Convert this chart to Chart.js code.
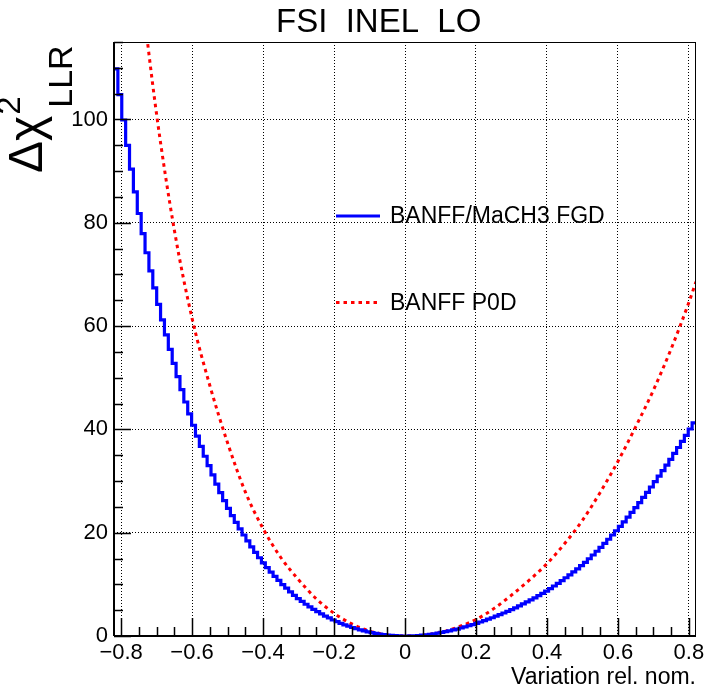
<!DOCTYPE html>
<html>
<head>
<meta charset="utf-8">
<script src="https://cdn.jsdelivr.net/npm/chart.js@4.4.1/dist/chart.umd.min.js"></script>
<style>
  html, body { margin: 0; padding: 0; background: #fff; }
  #wrap { width: 717px; height: 692px; }
</style>
</head>
<body>
<div id="wrap"><canvas id="c" width="717" height="692"></canvas></div>
<script>
// histogram range (FSI INEL LO scan, 150 bins)
const xLow = -0.82, xHigh = 0.82, nBins = 150;

// BANFF/MaCH3 FGD, one value per bin
const fgdValues = [
  109.8, 104.8, 99.9, 95.0, 90.4, 86.0, 81.8, 77.9, 74.2, 70.7,
  67.4, 64.2, 61.2, 58.3, 55.5, 52.8, 50.2, 47.7, 45.3, 43.0,
  40.8, 38.7, 36.7, 34.8, 33.0, 31.2, 29.4, 27.75, 26.2, 24.7,
  23.3, 22.0, 20.75, 19.55, 18.4, 17.25, 16.2, 15.15, 14.15, 13.25,
  12.35, 11.55, 10.75, 9.95, 9.25, 8.55, 7.85, 7.25, 6.7, 6.15,
  5.65, 5.15, 4.7, 4.3, 3.85, 3.5, 3.1, 2.8, 2.45, 2.15,
  1.9, 1.65, 1.4, 1.2, 1.0, 0.8, 0.65, 0.5, 0.38, 0.27,
  0.18, 0.11, 0.06, 0.02, 0.0, 0.0, 0.02, 0.05, 0.09, 0.16,
  0.23, 0.33, 0.44, 0.56, 0.69, 0.84, 1.0, 1.17, 1.35, 1.55,
  1.76, 1.98, 2.21, 2.45, 2.71, 2.97, 3.25, 3.53, 3.83, 4.13,
  4.45, 4.77, 5.11, 5.46, 5.83, 6.21, 6.6, 6.99, 7.4, 7.82,
  8.25, 8.68, 9.17, 9.68, 10.2, 10.73, 11.28, 11.84, 12.41, 13.0,
  13.61, 14.27, 14.96, 15.68, 16.41, 17.16, 17.94, 18.73, 19.55, 20.38,
  21.24, 22.11, 23.01, 23.93, 24.87, 25.83, 26.82, 27.82, 28.85, 29.89,
  30.94, 32.0, 33.09, 34.2, 35.34, 36.49, 37.67, 38.86, 40.08, 41.27
];

// BANFF P0D scan points
const p0dX = [-0.75, -0.7, -0.65, -0.6, -0.55, -0.5, -0.45, -0.4, -0.35, -0.3,
  -0.25, -0.2, -0.15, -0.1, -0.05, 0, 0.05, 0.1, 0.15, 0.2,
  0.25, 0.3, 0.35, 0.4, 0.45, 0.5, 0.55, 0.6, 0.65, 0.7,
  0.75, 0.8, 0.82];
const p0dY = [129, 101, 78.6, 61.5, 48.5, 37.4, 27.9, 20.8, 15.2, 10.9,
  7.2, 4.4, 2.35, 0.95, 0.22, 0, 0.15, 0.7, 1.75, 3.2,
  5.3, 7.9, 10.8, 14.0, 17.9, 22.4, 27.8, 33.8, 40.5, 47.6,
  55.6, 64.6, 68.6];

const xTicks = [-0.8, -0.6, -0.4, -0.2, 0, 0.2, 0.4, 0.6, 0.8];
const yTicks = [0, 20, 40, 60, 80, 100];
const yMax = 115;
const seriesLabels = ['BANFF/MaCH3 FGD', 'BANFF P0D'];
const titleText = 'FSI  INEL  LO';
const xTitle = 'Variation rel. nom.';

const FONT = "'Liberation Sans', Arial, Helvetica, sans-serif";
Chart.defaults.font.family = FONT;
Chart.defaults.color = '#000';

const binWidth = (xHigh - xLow) / nBins;
const fgdPoints = fgdValues.map((v, i) => ({ x: xLow + i * binWidth, y: v }));
fgdPoints.push({ x: xHigh, y: fgdValues[nBins - 1] });
const p0dPoints = p0dX.map((x, i) => ({ x, y: p0dY[i] }));

const fmtX = v => v === 0 ? '0' : (v < 0 ? '\u2212' : '') + Math.abs(v).toFixed(1);

// ROOT-like frame, inside ticks, titles and legend
const rootDecor = {
  id: 'rootDecor',
  afterDraw(chart) {
    const { ctx, chartArea: a, scales: { x, y } } = chart;
    ctx.save();
    ctx.strokeStyle = '#000';

    // frame
    ctx.lineWidth = 1;
    ctx.beginPath();
    ctx.moveTo(a.left, a.top + 0.5); ctx.lineTo(a.right, a.top + 0.5);
    ctx.moveTo(a.right - 0.5, a.top); ctx.lineTo(a.right - 0.5, a.bottom);
    ctx.stroke();
    ctx.lineWidth = 2;
    ctx.beginPath();
    ctx.moveTo(a.left, a.top); ctx.lineTo(a.left, a.bottom);
    ctx.moveTo(a.left, a.bottom); ctx.lineTo(a.right, a.bottom);
    ctx.stroke();

    // ticks
    ctx.lineWidth = 1.5;
    ctx.beginPath();
    for (let k = -16; k <= 16; k++) {
      const px = Math.round(x.getPixelForValue(k * 0.05)) + 0.5;
      const len = k % 4 === 0 ? 18 : 9;
      ctx.moveTo(px, a.bottom); ctx.lineTo(px, a.bottom - len);
    }
    for (let k = 0; k <= 23; k++) {
      const py = Math.round(y.getPixelForValue(k * 5)) + 0.5;
      const len = k % 4 === 0 ? 17 : 9;
      ctx.moveTo(a.left, py); ctx.lineTo(a.left + len, py);
    }
    ctx.stroke();

    ctx.fillStyle = '#000';
    // title
    ctx.font = '33px ' + FONT;
    ctx.textAlign = 'left';
    ctx.textBaseline = 'alphabetic';
    ctx.fillText(titleText, 276, 32);

    // x title
    ctx.font = '23px ' + FONT;
    ctx.textAlign = 'right';
    ctx.fillText(xTitle, a.right, 684);

    // y title
    ctx.save();
    ctx.translate(42, 173);
    ctx.rotate(-Math.PI / 2);
    ctx.textAlign = 'left';
    ctx.font = '48px ' + FONT;
    ctx.fillText('\u0394\u03c7', 0, 0);
    const w1 = ctx.measureText('\u0394\u03c7').width;
    ctx.font = '33px ' + FONT;
    ctx.fillText('2', w1 + 1, -22);
    ctx.font = '34px ' + FONT;
    ctx.fillText('LLR', w1 + 8, 30);
    ctx.restore();

    // legend
    const legendY = [216, 302.5];
    chart.data.datasets.forEach((ds, i) => {
      const ly = legendY[i];
      ctx.save();
      ctx.strokeStyle = ds.borderColor;
      ctx.lineWidth = ds.borderWidth;
      ctx.setLineDash(ds.borderDash || []);
      ctx.beginPath();
      ctx.moveTo(336, ly); ctx.lineTo(380, ly);
      ctx.stroke();
      ctx.restore();
      ctx.font = '23px ' + FONT;
      ctx.textAlign = 'left';
      ctx.textBaseline = 'middle';
      ctx.fillText(ds.label, 390, ly + 1);
    });
    ctx.restore();
  }
};

new Chart(document.getElementById('c'), {
  type: 'line',
  data: {
    datasets: [
      {
        label: seriesLabels[0],
        data: fgdPoints,
        borderColor: '#0000ff',
        borderWidth: 3.2,
        stepped: true,
        pointRadius: 0,
        borderJoinStyle: 'miter',
        fill: false
      },
      {
        label: seriesLabels[1],
        data: p0dPoints,
        borderColor: '#ff0000',
        borderWidth: 3,
        borderDash: [3.5, 4],
        cubicInterpolationMode: 'monotone',
        pointRadius: 0,
        fill: false
      }
    ]
  },
  options: {
    responsive: false,
    animation: false,
    layout: { padding: { top: 42, right: 21, left: 0, bottom: 0 } },
    plugins: { legend: { display: false }, title: { display: false }, tooltip: { enabled: false } },
    scales: {
      x: {
        type: 'linear',
        min: xLow,
        max: xHigh,
        afterBuildTicks: s => { s.ticks = xTicks.map(v => ({ value: v })); },
        afterFit: s => { s.height = 56; },
        grid: { color: '#000', lineWidth: 1, drawTicks: false },
        border: { display: false, dash: [1, 2] },
        ticks: { font: { size: 22 }, padding: 4, maxRotation: 0, autoSkip: false, callback: fmtX }
      },
      y: {
        type: 'linear',
        min: 0,
        max: yMax,
        afterBuildTicks: s => { s.ticks = yTicks.map(v => ({ value: v })); },
        afterFit: s => { s.width = 114; },
        grid: { color: '#000', lineWidth: 1, drawTicks: false },
        border: { display: false, dash: [1, 2] },
        ticks: { font: { size: 22 }, padding: 6, autoSkip: false, callback: v => String(v) }
      }
    }
  },
  plugins: [rootDecor]
});
</script>
</body>
</html>
